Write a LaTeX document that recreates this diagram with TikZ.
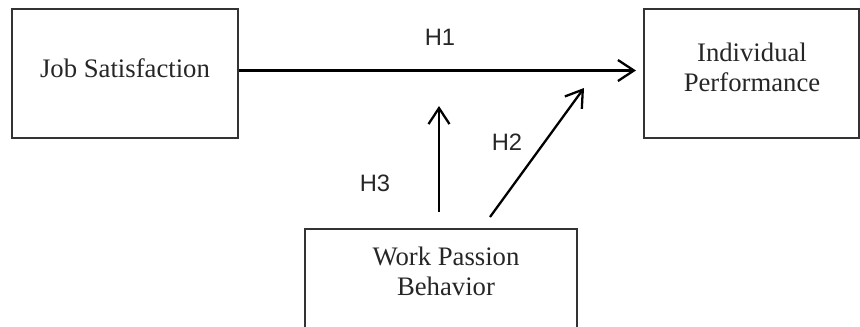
\documentclass[tikz,border=0pt]{standalone}
\usepackage{fontspec}
\usepackage{tikz}
\usetikzlibrary{arrows.meta}
\setmainfont{Liberation Serif}
\newfontfamily\hfont{Liberation Sans}

\begin{document}
\begin{tikzpicture}[x=0.02cm,y=-0.02cm,
  box/.style={draw=black!80,line width=1.3pt,inner sep=0pt},
  boxtext/.style={inner sep=0pt,align=center,font=\fontsize{15.2}{17}\selectfont,text=black!85},
  hyp/.style={font=\hfont\fontsize{13.5}{16}\selectfont,text=black!85,inner sep=0pt},
  arr/.style={draw=black,line width=1.3pt,-{Straight Barb[length=3.2mm,width=4.2mm,line width=1.3pt]}}]
\clip (0,0) rectangle (860,326);
% boxes
\node[box,minimum width=4.52cm,minimum height=2.58cm] (job) at (125,73.5) {};
\node[boxtext] (jobtext) at (125,68) {Job Satisfaction};
\node[box,minimum width=4.3cm,minimum height=2.58cm] (perf) at (751.5,73.5) {};
\node[boxtext] (perftext) at (752,67) {Individual\\Performance};
\node[box,minimum width=5.44cm,minimum height=2.6cm,anchor=north] (wpb) at (441,228) {};
\node[boxtext] (wpbtext) at (446,271) {Work Passion\\Behavior};
% arrow ends
\coordinate (h1end) at (636,70.5);
\coordinate (h3start) at (439,212);
\coordinate (h3end) at (439,106);
\coordinate (h2start) at (490,217);
\coordinate (h2end) at (584,88);
% arrows
\draw[arr] (job.east |- h1end) -- (h1end);
\draw[arr] (h3start) -- (h3end);
\draw[arr] (h2start) -- (h2end);
% labels
\node[hyp] (h1) at (440,37) {H1};
\node[hyp] (h3) at (375,183) {H3};
\node[hyp] (h2) at (507,142) {H2};
\end{tikzpicture}
\end{document}
